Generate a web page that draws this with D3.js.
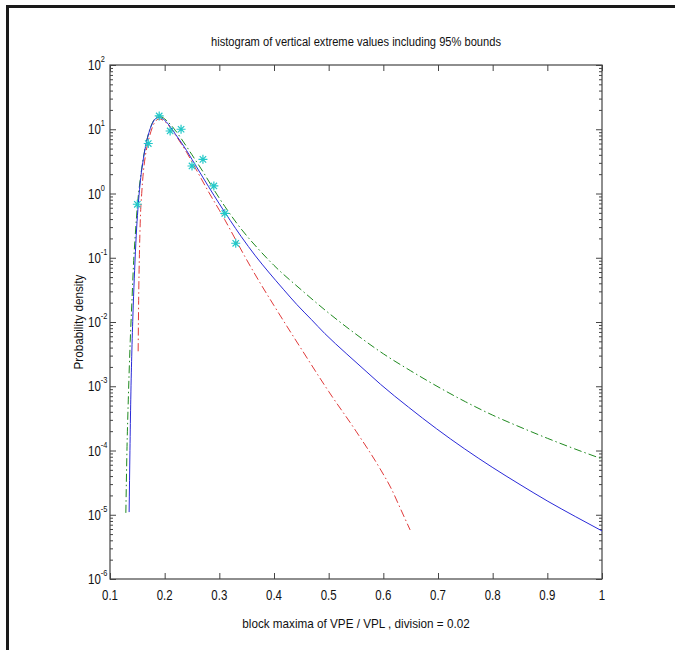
<!DOCTYPE html>
<html>
<head>
<meta charset="utf-8">
<script src="https://cdn.jsdelivr.net/npm/d3@7"></script>
<style>
  body { margin: 0; background: #fff; }
  text { font-family: "Liberation Sans", Arial, sans-serif; fill: #111; }
</style>
</head>
<body>
<div id="chart"></div>
<script>
// histogram points (bin centres, division = 0.02)
const histX = [0.15, 0.17, 0.19, 0.21, 0.23, 0.25, 0.27, 0.29, 0.31, 0.33]
const histY = [0.68, 6.0, 16.1, 9.4, 10.0, 2.68, 3.4, 1.31, 0.49, 0.168]

// fitted density (blue, solid)
const fitX = [0.135, 0.1365, 0.138, 0.140, 0.1425, 0.145, 0.148, 0.151, 0.155, 0.160, 0.165, 0.170, 0.175, 0.180, 0.185, 0.190, 0.195, 0.200,
  0.210, 0.220, 0.230, 0.240, 0.250, 0.265, 0.280, 0.300, 0.320, 0.340, 0.366, 0.390, 0.417, 0.442, 0.468, 0.493, 0.532, 0.570, 0.595,
  0.646, 0.697, 0.748, 0.799, 0.850, 0.901, 0.952, 1.000]
const fitY = [1.1e-5, 1.0e-4, 6.3e-4, 3.55e-3, 0.0178, 0.063, 0.224, 0.562, 1.41, 3.02, 5.37, 8.13, 11.0, 13.5, 15.0, 15.3, 14.8, 13.8,
  11.0, 8.3, 6.3, 4.68, 3.39, 2.09, 1.29, 0.69, 0.38, 0.214, 0.107, 0.060, 0.0324, 0.0186, 0.011, 6.6e-3, 3.24e-3, 1.66e-3, 1.07e-3,
  4.73e-4, 2.19e-4, 1.07e-4, 5.5e-5, 2.95e-5, 1.62e-5, 9.3e-6, 5.6e-6]

// lower bound (red, dash-dot)
const lowX = [0.1515, 0.1525, 0.1538, 0.1555, 0.158, 0.161, 0.165, 0.170, 0.175, 0.180, 0.185, 0.190, 0.195, 0.200,
  0.210, 0.220, 0.230, 0.240, 0.250, 0.265, 0.280, 0.300, 0.310, 0.330, 0.350, 0.375, 0.400, 0.450, 0.500, 0.550,
  0.594, 0.615, 0.631, 0.649]
const lowY = [3.5e-3, 0.025, 0.112, 0.40, 1.0, 2.14, 4.0, 6.5, 9.3, 12.0, 13.8, 14.5, 14.1, 13.2,
  10.7, 8.1, 6.0, 4.4, 3.1, 1.82, 1.07, 0.55, 0.39, 0.19, 0.093, 0.040, 0.018, 3.8e-3, 8.3e-4, 2.0e-4,
  5.2e-5, 2.5e-5, 1.26e-5, 5.8e-6]

// upper bound (green, dash-dot)
const upX = [0.129, 0.131, 0.1335, 0.137, 0.140, 0.143, 0.147, 0.150, 0.155, 0.160, 0.165, 0.170, 0.175, 0.180, 0.185, 0.190, 0.195, 0.200,
  0.21, 0.22, 0.23, 0.24, 0.25, 0.27, 0.29, 0.31, 0.34, 0.37, 0.40, 0.45, 0.50, 0.55, 0.60, 0.65, 0.70, 0.75, 0.80, 0.85, 0.90, 0.95, 1.00]
const upY = [1.07e-5, 1.0e-4, 6.3e-4, 5.0e-3, 0.020, 0.079, 0.28, 0.63, 1.58, 3.16, 5.5, 8.3, 11.2, 13.8, 15.5, 15.8, 15.5, 14.5,
  12.0, 9.5, 7.2, 5.4, 4.0, 2.19, 1.15, 0.63, 0.28, 0.141, 0.076, 0.0316, 0.0138, 6.45e-3, 3.2e-3, 1.74e-3, 9.8e-4, 5.75e-4, 3.55e-4,
  2.32e-4, 1.55e-4, 1.06e-4, 7.4e-5]

const xTicks = [0.1, 0.2, 0.3, 0.4, 0.5, 0.6, 0.7, 0.8, 0.9, 1]
const yTicks = [1e-6, 1e-5, 1e-4, 1e-3, 1e-2, 1e-1, 1, 1e1, 1e2]

const width = 675, height = 650
const margin = ({ top: 65, right: 73, bottom: 71, left: 110 })

const svg = d3.select("#chart").append("svg")
  .attr("width", width)
  .attr("height", height)

// figure frame (only top and left edges visible)
svg.append("line").attr("x1", 6).attr("x2", 675).attr("y1", 6.5).attr("y2", 6.5)
  .attr("stroke", "#1a1a1a").attr("stroke-width", 3)
svg.append("line").attr("x1", 7.5).attr("x2", 7.5).attr("y1", 5).attr("y2", 650)
  .attr("stroke", "#1a1a1a").attr("stroke-width", 3)

const x = d3.scaleLinear().domain([0.1, 1]).range([margin.left, width - margin.right])
const y = d3.scaleLog().domain([1e-6, 1e2]).range([height - margin.bottom, margin.top])

const minor = y.ticks().filter(v => !yTicks.some(t => Math.abs(t - v) / t < 1e-9))
const axisColor = "#444"

function styleAxis(g) {
  g.select(".domain").remove()
  g.selectAll("line").attr("stroke", axisColor)
  g.selectAll("text").remove()
}

// minor ticks
svg.append("g").attr("transform", `translate(${x(0.1)},0)`)
  .call(d3.axisLeft(y).tickValues(minor).tickSize(-3).tickFormat(""))
  .call(styleAxis)
svg.append("g").attr("transform", `translate(${x(1)},0)`)
  .call(d3.axisRight(y).tickValues(minor).tickSize(-3).tickFormat(""))
  .call(styleAxis)

// major ticks
svg.append("g").attr("transform", `translate(${x(0.1)},0)`)
  .call(d3.axisLeft(y).tickValues(yTicks).tickSize(-6).tickFormat(""))
  .call(styleAxis)
svg.append("g").attr("transform", `translate(${x(1)},0)`)
  .call(d3.axisRight(y).tickValues(yTicks).tickSize(-6).tickFormat(""))
  .call(styleAxis)
svg.append("g").attr("transform", `translate(0,${y(1e-6)})`)
  .call(d3.axisBottom(x).tickValues(xTicks).tickSize(-6).tickFormat(""))
  .call(styleAxis)
svg.append("g").attr("transform", `translate(0,${y(1e2)})`)
  .call(d3.axisTop(x).tickValues(xTicks).tickSize(-6).tickFormat(""))
  .call(styleAxis)

// box
svg.append("rect")
  .attr("x", x(0.1)).attr("y", y(1e2))
  .attr("width", x(1) - x(0.1)).attr("height", y(1e-6) - y(1e2))
  .attr("fill", "none").attr("stroke", axisColor).attr("stroke-width", 1.2)

// tick labels (narrow look of the original font)
svg.append("g").selectAll("text")
  .data(xTicks)
  .enter().append("text")
  .attr("transform", d => `translate(${x(d)},${y(1e-6) + 21}) scale(0.82,1)`)
  .attr("text-anchor", "middle")
  .style("font-size", "14px")
  .text(d => d3.format("~g")(d))

const yl = svg.append("g").selectAll("text")
  .data(yTicks)
  .enter().append("text")
  .attr("transform", d => `translate(88,${y(d) + 5}) scale(0.82,1)`)
  .attr("text-anchor", "start")
  .style("font-size", "14px")
yl.append("tspan").text("10")
yl.append("tspan").attr("dy", -8).style("font-size", "9px").text(d => Math.round(Math.log10(d)))

// curves
const line = (xs, ys) => d3.line()
  .x((d, i) => x(xs[i]))
  .y((d, i) => y(ys[i]))
  .curve(d3.curveMonotoneX)(xs)

svg.append("path").attr("d", line(upX, upY))
  .attr("fill", "none").attr("stroke", "#1f8a1f").attr("stroke-width", 1)
  .attr("stroke-dasharray", "8,3,1.5,3")
svg.append("path").attr("d", line(lowX, lowY))
  .attr("fill", "none").attr("stroke", "#e03a3a").attr("stroke-width", 1)
  .attr("stroke-dasharray", "8,3,1.5,3")
svg.append("path").attr("d", line(fitX, fitY))
  .attr("fill", "none").attr("stroke", "#2a2ad8").attr("stroke-width", 1)

// histogram stars
const star = "M-4.5,0H4.5M0,-4.5V4.5M-3.2,-3.2L3.2,3.2M-3.2,3.2L3.2,-3.2"
svg.append("g").selectAll("path")
  .data(histX)
  .enter().append("path")
  .attr("transform", (d, i) => `translate(${x(d)},${y(histY[i])})`)
  .attr("d", star)
  .attr("stroke", "#22c8c8").attr("stroke-width", 1.2).attr("fill", "none")

// titles
const mid = (x(0.1) + x(1)) / 2
svg.append("text")
  .attr("transform", `translate(${mid},46) scale(0.89,1)`)
  .attr("text-anchor", "middle").style("font-size", "12.5px")
  .text("histogram of vertical extreme values including 95% bounds")
svg.append("text")
  .attr("transform", `translate(${mid},628) scale(0.9,1)`)
  .attr("text-anchor", "middle").style("font-size", "13px")
  .text("block maxima of VPE / VPL , division = 0.02")
svg.append("text")
  .attr("transform", `translate(83,${(y(1e-6) + y(1e2)) / 2}) rotate(-90) scale(0.9,1)`)
  .attr("text-anchor", "middle").style("font-size", "13px")
  .text("Probability density")
</script>
</body>
</html>
